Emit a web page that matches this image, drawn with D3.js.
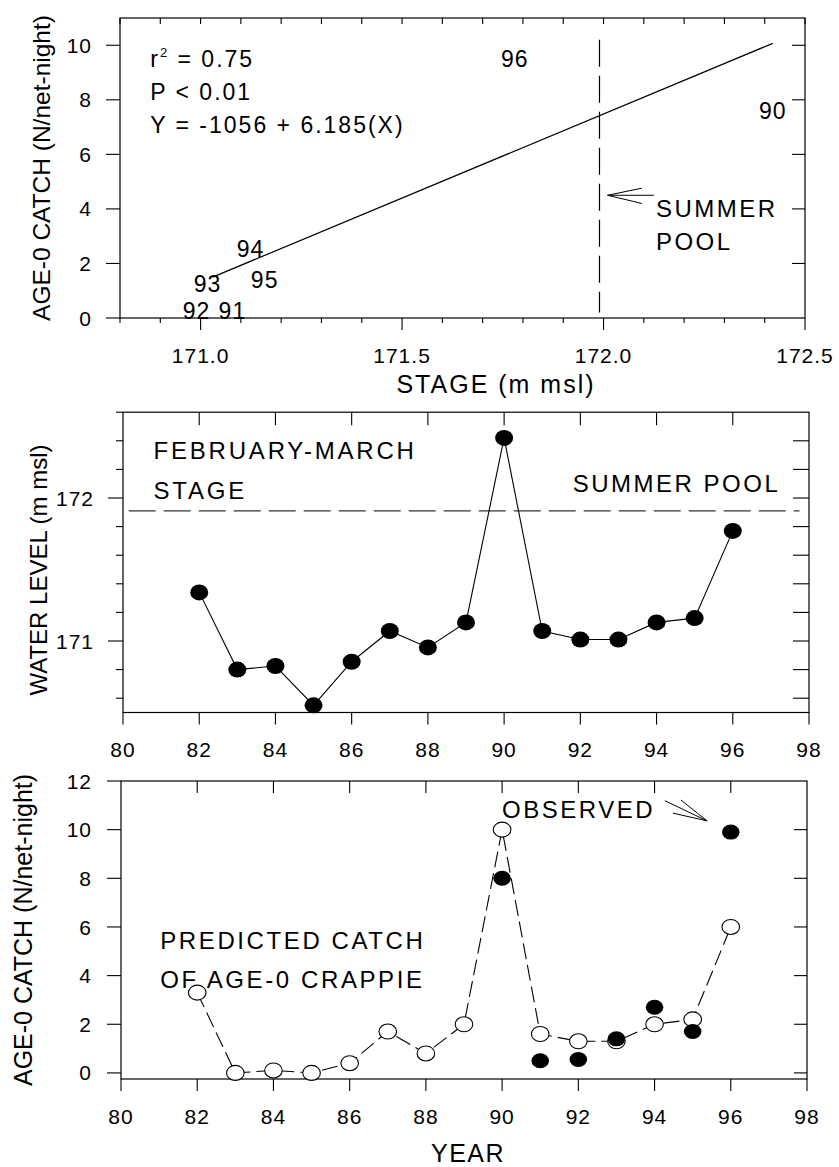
<!DOCTYPE html>
<html><head><meta charset="utf-8">
<script src="https://cdn.jsdelivr.net/npm/d3@7"></script>
<style>body{margin:0;background:#fff}svg{display:block}</style>
</head><body><svg id="c" width="839" height="1167"></svg>
<script>
// ---------- DATA ----------
// Panel A: catch vs February-March stage (labels are years)
const stageLabels = ["96", "90", "94", "95", "93", "92", "91"];
const stageValues = [171.78, 172.42, 171.124, 171.159, 171.017, 170.99, 171.079];
const stageCatch  = [9.52, 7.6, 2.53, 1.39, 1.25, 0.26, 0.26];
const fitStage = [171.03, 172.42];
const fitCatch = [1.5, 10.07];
const summerPoolStage = 171.99;
const stageTickLabels = [171.0, 171.5, 172.0, 172.5];
const stageMinorTicks = [170.8, 170.9, 171.0, 171.1, 171.2, 171.3, 171.4, 171.5, 171.6, 171.7, 171.8, 171.9, 172.0, 172.1, 172.2, 172.3, 172.4, 172.5];
const catchTicksA = [0, 2, 4, 6, 8, 10];
const statsText = ["= 0.75", "P < 0.01", "Y = -1056 + 6.185(X)"];

// Panel B: water level by year
const years = [82, 83, 84, 85, 86, 87, 88, 89, 90, 91, 92, 93, 94, 95, 96];
const waterLevel = [171.34, 170.80, 170.825, 170.55, 170.855, 171.07, 170.955, 171.13, 172.42, 171.07, 171.01, 171.01, 171.13, 171.16, 171.77];
const summerPoolLevel = 171.91;
const yearTicks = [80, 82, 84, 86, 88, 90, 92, 94, 96, 98];
const levelTicks = [171, 172];
const levelMinorTicks = [170.6, 170.8, 171.0, 171.2, 171.4, 171.6, 171.8, 172.0, 172.2, 172.4, 172.6];

// Panel C: predicted and observed catch
const predicted = [3.3, 0.0, 0.1, 0.0, 0.4, 1.7, 0.8, 2.0, 10.0, 1.6, 1.3, 1.3, 2.0, 2.2, 6.0];
const observedYears = [90, 91, 92, 93, 94, 95, 96];
const observed = [8.0, 0.5, 0.55, 1.4, 2.7, 1.7, 9.9];
const catchTicksC = [0, 2, 4, 6, 8, 10, 12];

// ---------- DRAWING ----------
const svg = d3.select("#c");
const FONT = "'Liberation Sans', Arial, Helvetica, sans-serif";
const INK = "#000";

function frame(g, x, y) {
  const [x0, x1] = x.range(), [y0, y1] = y.range();
  g.append("rect").attr("x", x0).attr("y", y1).attr("width", x1 - x0).attr("height", y0 - y1)
    .attr("fill", "none").attr("stroke", INK).attr("stroke-width", 1.2);
}
function xTicks(g, x, vals, yPos, len) {
  g.append("g").selectAll("line").data(vals).join("line")
    .attr("x1", d => x(d)).attr("x2", d => x(d))
    .attr("y1", yPos).attr("y2", yPos + len)
    .attr("stroke", INK).attr("stroke-width", 1.1);
}
function yTicks(g, y, vals, xPos, len) {
  g.append("g").selectAll("line").data(vals).join("line")
    .attr("y1", d => y(d)).attr("y2", d => y(d))
    .attr("x1", xPos).attr("x2", xPos + len)
    .attr("stroke", INK).attr("stroke-width", 1.1);
}
function xLabels(g, x, vals, base, fmt) {
  g.append("g").selectAll("text").data(vals).join("text")
    .attr("x", d => x(d)).attr("y", base).attr("text-anchor", "middle")
    .attr("font-family", FONT).attr("font-size", 21).attr("letter-spacing", 1)
    .text(fmt);
}
function yLabels(g, y, vals, right, fmt) {
  g.append("g").selectAll("text").data(vals).join("text")
    .attr("x", right).attr("y", d => y(d)).attr("dy", "0.36em").attr("text-anchor", "end")
    .attr("font-family", FONT).attr("font-size", 21).attr("letter-spacing", 1)
    .text(fmt);
}
function txt(g, x, y, s, size, ls, anchor) {
  return g.append("text").attr("x", x).attr("y", y).attr("font-family", FONT)
    .attr("font-size", size).attr("letter-spacing", ls || 0)
    .attr("text-anchor", anchor || "start").attr("fill", INK).text(s);
}
function yTitle(g, cx, cy, s, size) {
  g.append("text").attr("transform", `translate(${cx},${cy}) rotate(-90)`)
    .attr("text-anchor", "middle").attr("font-family", FONT).attr("font-size", size)
    .attr("fill", INK).text(s);
}

// ===== Panel A =====
{
  const g = svg.append("g");
  const x = d3.scaleLinear().domain([170.8, 172.5]).range([120, 805]);
  const y = d3.scaleLinear().domain([0, 11]).range([318, 18]);
  frame(g, x, y);
  xTicks(g, x, stageMinorTicks.filter(d => !stageTickLabels.some(m => Math.abs(m - d) < 1e-6)), 318, 5);
  xTicks(g, x, stageTickLabels, 318, 12);
  xTicks(g, x, stageMinorTicks, 18, 6);
  yTicks(g, y, catchTicksA, 120, -14);
  yTicks(g, y, catchTicksA.filter(d => d > 0), 805, -13);
  xLabels(g, x, stageTickLabels, 363, d => d.toFixed(1));
  yLabels(g, y, catchTicksA, 92, d => d);
  txt(g, 496, 393, "STAGE (m msl)", 25, 2, "middle");
  yTitle(g, 50, 168, "AGE-0 CATCH (N/net-night)", 24.5);

  g.append("path").datum(d3.zip(fitStage, fitCatch))
    .attr("d", d3.line().x(d => x(d[0])).y(d => y(d[1])))
    .attr("fill", "none").attr("stroke", INK).attr("stroke-width", 1.2);
  g.append("line").attr("x1", x(summerPoolStage)).attr("x2", x(summerPoolStage))
    .attr("y1", y(10.2)).attr("y2", y(0.2))
    .attr("stroke", INK).attr("stroke-width", 1.2).attr("stroke-dasharray", "27,9");
  g.append("g").selectAll("text").data(stageLabels).join("text")
    .attr("x", (d, i) => x(stageValues[i])).attr("y", (d, i) => y(stageCatch[i]))
    .attr("dy", "0.36em").attr("text-anchor", "middle")
    .attr("font-family", FONT).attr("font-size", 23).attr("letter-spacing", 1)
    .text(d => d);
  const t1 = txt(g, x(170.875), y(9.22), "", 23, 2);
  t1.append("tspan").text("r");
  t1.append("tspan").attr("font-size", 13).attr("dy", -10).text("2");
  t1.append("tspan").attr("dy", 10).text(" " + statsText[0]);
  txt(g, x(170.875), y(8.0), statsText[1], 23, 2);
  txt(g, x(170.875), y(6.78), statsText[2], 23, 2);
  const ln = d3.line().x(d => x(d[0])).y(d => y(d[1]));
  g.append("path").attr("d", ln([[172.125, 4.5], [172.01, 4.5]]))
    .attr("stroke", INK).attr("stroke-width", 1);
  g.append("path").attr("d", ln([[172.095, 4.76], [172.01, 4.5], [172.095, 4.2]]))
    .attr("fill", "none").attr("stroke", INK).attr("stroke-width", 1);
  txt(g, x(172.13), y(3.72), "SUMMER", 24, 2.5);
  txt(g, x(172.13), y(2.48), "POOL", 24, 2.5);
}

// ===== Panel B =====
{
  const g = svg.append("g");
  const x = d3.scaleLinear().domain([80, 98]).range([123, 809]);
  const y = d3.scaleLinear().domain([170.5, 172.6]).range([712.5, 412.2]);
  frame(g, x, y);
  xTicks(g, x, yearTicks, 712.5, 12);
  xTicks(g, x, yearTicks.filter(d => d > 80 && d < 98), 412.2, 13);
  yTicks(g, y, levelMinorTicks.filter(d => !levelTicks.includes(d)), 123, -7);
  yTicks(g, y, levelTicks, 123, -15);
  yTicks(g, y, levelMinorTicks.filter(d => d < 172.55), 809, -16);
  xLabels(g, x, yearTicks, 757, d => d);
  yLabels(g, y, levelTicks, 94, d => d);
  yTitle(g, 47, 570, "WATER LEVEL (m msl)", 24);

  g.append("line").attr("x1", x(80.15)).attr("x2", x(97.75))
    .attr("y1", y(summerPoolLevel)).attr("y2", y(summerPoolLevel))
    .attr("stroke", "#333").attr("stroke-width", 1.2).attr("stroke-dasharray", "27,8");
  g.append("path").datum(d3.zip(years, waterLevel))
    .attr("d", d3.line().x(d => x(d[0])).y(d => y(d[1])))
    .attr("fill", "none").attr("stroke", INK).attr("stroke-width", 1.1);
  g.append("g").selectAll("ellipse").data(d3.zip(years, waterLevel)).join("ellipse")
    .attr("cx", d => x(d[0])).attr("cy", d => y(d[1])).attr("rx", 9).attr("ry", 8)
    .attr("fill", INK);
  txt(g, x(80.8), y(172.27), "FEBRUARY-MARCH", 24, 2.8);
  txt(g, x(80.8), y(171.99), "STAGE", 24, 2.8);
  txt(g, x(91.8), y(172.04), "SUMMER POOL", 24, 2.5);
}

// ===== Panel C =====
{
  const g = svg.append("g");
  const x = d3.scaleLinear().domain([80, 98]).range([121, 807]);
  const y = d3.scaleLinear().domain([-0.25, 12]).range([1079, 781]);
  frame(g, x, y);
  xTicks(g, x, yearTicks, 1079, 12);
  xTicks(g, x, yearTicks.filter(d => d > 80 && d < 98), 781, 12);
  yTicks(g, y, catchTicksC, 121, -14);
  yTicks(g, y, catchTicksC.filter(d => d < 12), 807, -13);
  xLabels(g, x, yearTicks, 1124, d => d);
  yLabels(g, y, catchTicksC, 92, d => d);
  txt(g, 468, 1162, "YEAR", 25, 1.5, "middle");
  yTitle(g, 32, 930, "AGE-0 CATCH (N/net-night)", 25);

  g.append("path").datum(d3.zip(years, predicted))
    .attr("d", d3.line().x(d => x(d[0])).y(d => y(d[1])))
    .attr("fill", "none").attr("stroke", INK).attr("stroke-width", 1.1).attr("stroke-dasharray", "16,6");
  g.append("g").selectAll("ellipse").data(d3.zip(years, predicted)).join("ellipse")
    .attr("cx", d => x(d[0])).attr("cy", d => y(d[1])).attr("rx", 8.8).attr("ry", 7.5)
    .attr("fill", "#fff").attr("stroke", INK).attr("stroke-width", 1.1);
  g.append("g").selectAll("ellipse").data(d3.zip(observedYears, observed)).join("ellipse")
    .attr("cx", d => x(d[0])).attr("cy", d => y(d[1])).attr("rx", 8.8).attr("ry", 7.5)
    .attr("fill", INK);
  txt(g, x(90.0), y(10.48), "OBSERVED", 24, 2.5);
  const ln = d3.line().x(d => x(d[0])).y(d => y(d[1]));
  g.append("path").attr("d", ln([[94.27, 11.19], [95.38, 10.36]])).attr("stroke", INK).attr("fill", "none");
  g.append("path").attr("d", ln([[94.69, 11.22], [95.38, 10.36]])).attr("stroke", INK).attr("fill", "none");
  g.append("path").attr("d", ln([[94.48, 10.68], [95.38, 10.36]])).attr("stroke", INK).attr("fill", "none");
  txt(g, x(81.03), y(5.1), "PREDICTED CATCH", 24, 2.6);
  txt(g, x(81.03), y(3.5), "OF AGE-0 CRAPPIE", 24, 2.6);
}
</script></body></html>
